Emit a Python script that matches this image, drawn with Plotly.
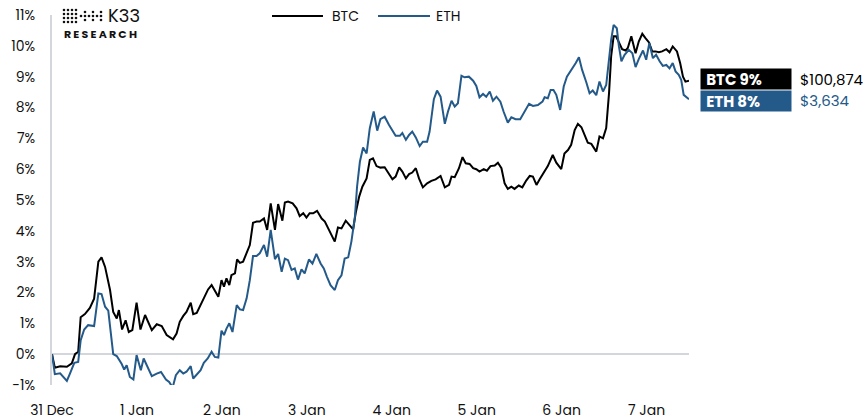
import pandas as pd
import plotly.graph_objects as go

# Hours since 31 Dec 00:00 and cumulative % change
btc_hours = [0, 0.8, 2.3, 4.2, 5.6, 6.5, 7.4, 8.1, 9.3, 10.7,
             11.9, 13.1, 14.0, 15.0, 16.4, 17.3, 18.3, 18.9, 19.8, 20.8,
             21.7, 22.7, 23.9, 25.0, 26.3, 28.2, 29.6, 31.0, 32.4, 33.3,
             34.2, 35.2, 36.1, 37.1, 38.0, 39.2, 39.9, 40.9, 41.8, 42.9,
             44.1, 45.1, 46.0, 47.0, 47.9, 48.6, 49.3, 50.1, 50.7, 51.7,
             52.3, 53.1, 54.0, 55.0, 55.9, 56.8, 57.8, 58.7, 59.9, 60.8,
             61.8, 63.0, 63.9, 65.1, 65.8, 66.7, 68.0, 69.1, 70.0, 71.0,
             71.9, 72.8, 73.8, 74.9, 76.2, 77.1, 78.0, 79.0, 79.9, 80.8,
             81.8, 83.0, 84.1, 85.1, 85.8, 86.8, 87.7, 88.9, 89.8, 90.7,
             91.7, 92.8, 94.0, 95.0, 96.2, 97.1, 98.1, 99.0, 100.0, 100.9,
             101.8, 102.8, 103.7, 104.8, 106.0, 107.2, 108.4, 109.8, 111.0, 112.2,
             112.9, 113.8, 115.0, 116.0, 116.9, 118.0, 119.0, 119.9, 120.8, 122.0,
             122.9, 123.9, 125.1, 126.0, 127.0, 127.9, 128.8, 129.8, 130.7, 131.9,
             132.9, 134.0, 135.0, 135.9, 136.9, 137.8, 138.9, 140.1, 141.5, 142.5,
             143.9, 144.8, 145.8, 146.7, 147.7, 148.6, 149.6, 150.5, 151.4, 152.4,
             153.8, 154.7, 155.7, 156.6, 157.4, 158.0, 158.7, 159.4, 160.2, 161.1,
             162.1, 162.7, 163.7, 164.9, 165.8, 166.8, 167.7, 168.7, 169.6, 170.5,
             171.5, 172.4, 173.6, 174.5, 175.4, 176.6, 177.5, 178.3, 179.0, 180.0]
btc_pct = [0.0, -0.44, -0.39, -0.41, -0.30, 0.0, 0.08, 1.20, 1.30, 1.50,
           1.80, 3.00, 3.14, 2.83, 2.08, 1.37, 1.16, 1.43, 0.80, 1.10,
           0.72, 0.78, 1.67, 0.80, 1.27, 0.78, 0.97, 0.91, 0.62, 0.56,
           0.48, 0.67, 1.05, 1.24, 1.37, 1.67, 1.30, 1.34, 1.56, 1.86,
           2.10, 2.24, 2.08, 1.86, 2.40, 2.19, 2.46, 2.24, 2.56, 2.62,
           3.07, 2.96, 3.00, 3.27, 3.54, 4.26, 4.30, 4.30, 4.40, 4.03,
           4.89, 4.03, 4.87, 4.33, 4.92, 4.95, 4.89, 4.73, 4.48, 4.57,
           4.43, 4.57, 4.57, 4.65, 4.40, 4.30, 4.08, 3.86, 3.65, 4.11,
           4.08, 4.33, 4.19, 4.05, 4.57, 5.11, 5.43, 5.70, 6.30, 6.35,
           6.10, 6.05, 6.06, 5.87, 5.67, 5.76, 6.06, 5.92, 5.70, 5.84,
           5.89, 6.03, 5.70, 5.41, 5.54, 5.62, 5.67, 5.78, 5.41, 5.49,
           5.76, 5.74, 6.03, 6.39, 6.19, 6.17, 6.03, 6.00, 5.92, 6.00,
           5.95, 6.10, 6.12, 6.21, 6.03, 5.54, 5.36, 5.43, 5.36, 5.47,
           5.41, 5.63, 5.78, 5.76, 5.49, 5.67, 5.89, 6.10, 6.46, 6.21,
           6.00, 6.51, 6.62, 6.79, 7.27, 7.47, 7.36, 7.11, 6.86, 6.82,
           6.57, 7.06, 7.00, 7.33, 8.46, 9.66, 10.31, 10.31, 10.09, 9.89,
           9.85, 9.93, 10.31, 9.76, 10.14, 10.39, 10.25, 10.11, 9.82, 9.82,
           9.79, 9.82, 9.89, 9.79, 9.98, 9.82, 9.44, 9.00, 8.84, 8.87]

eth_hours = [0, 0.8, 2.3, 3.2, 4.2, 5.1, 6.3, 7.4, 8.1, 9.1,
             10.2, 11.9, 13.1, 14.0, 15.0, 15.9, 17.3, 18.3, 19.7, 20.4,
             21.1, 22.0, 23.0, 23.9, 25.1, 25.9, 27.0, 28.2, 29.6, 30.8,
             32.2, 33.1, 34.1, 35.0, 36.1, 37.1, 38.0, 39.2, 39.9, 41.0,
             42.0, 42.9, 44.0, 45.1, 46.0, 47.0, 47.9, 48.6, 49.3, 50.1,
             51.0, 52.2, 53.1, 54.0, 55.0, 55.9, 56.8, 57.8, 58.7, 59.9,
             60.8, 61.8, 63.0, 63.9, 64.9, 65.8, 66.7, 67.7, 68.6, 69.5,
             70.5, 71.4, 72.6, 73.6, 74.7, 75.9, 76.8, 77.7, 78.7, 79.9,
             80.8, 81.8, 82.7, 83.7, 84.6, 85.6, 86.2, 87.0, 87.9, 88.9,
             89.8, 90.9, 91.9, 92.8, 94.0, 95.2, 96.2, 97.1, 98.3, 99.0,
             100.0, 100.9, 101.8, 102.8, 103.9, 104.8, 106.0, 106.7, 107.9, 108.8,
             109.8, 111.0, 111.9, 112.9, 113.8, 114.7, 115.7, 116.6, 117.8, 119.0,
             119.9, 120.8, 121.8, 122.7, 123.7, 124.6, 125.6, 126.7, 127.6, 128.8,
             129.8, 131.0, 132.3, 133.6, 134.8, 135.9, 137.3, 138.6, 139.2, 140.1,
             140.9, 141.7, 142.5, 143.6, 144.6, 145.5, 146.7, 148.0, 148.9, 149.8,
             151.0, 151.9, 152.8, 153.8, 154.7, 155.7, 156.6, 157.4, 158.0, 158.7,
             159.6, 160.2, 160.9, 161.8, 163.0, 164.0, 164.9, 165.8, 167.0, 167.9,
             168.8, 169.8, 170.7, 171.7, 172.6, 173.6, 174.5, 175.4, 176.2, 177.1,
             177.8, 178.5, 179.2, 180.0]
eth_pct = [0.0, -0.65, -0.62, -0.74, -0.87, -0.62, -0.28, -0.25, 0.45, 0.80,
           0.94, 0.91, 1.97, 1.95, 1.54, 1.41, 0.00, -0.06, -0.32, -0.50,
           -0.36, -0.74, -0.82, -0.03, -0.52, -0.14, -0.39, -0.71, -0.63, -0.58,
           -0.82, -0.90, -1.08, -0.68, -0.52, -0.63, -0.57, -0.39, -0.79, -0.65,
           -0.52, -0.28, -0.14, 0.08, -0.09, -0.11, 0.76, 0.62, 0.83, 1.00,
           0.72, 1.59, 1.45, 1.43, 1.81, 2.40, 3.18, 3.18, 3.27, 3.54,
           3.16, 4.03, 3.08, 3.25, 2.67, 3.10, 3.05, 2.73, 2.78, 2.42,
           2.75, 2.62, 3.07, 2.94, 3.25, 2.94, 2.78, 2.51, 2.24, 2.08,
           2.40, 2.56, 3.10, 3.14, 3.65, 4.46, 5.43, 6.24, 6.70, 6.51,
           7.33, 7.87, 7.25, 7.62, 7.70, 7.44, 7.25, 7.08, 7.08, 7.17,
           6.95, 7.11, 7.22, 7.03, 6.75, 6.89, 6.89, 7.22, 8.27, 8.55,
           8.35, 7.47, 7.87, 8.22, 8.03, 8.14, 9.03, 8.98, 9.00, 8.87,
           8.70, 8.33, 8.44, 8.35, 8.52, 8.22, 8.35, 8.19, 7.87, 7.51,
           7.68, 7.62, 7.62, 7.87, 8.12, 8.05, 8.08, 8.19, 8.33, 8.30,
           8.57, 8.57, 8.41, 7.92, 8.68, 9.00, 9.20, 9.44, 9.63, 9.22,
           8.81, 8.46, 8.55, 8.40, 8.84, 8.52, 8.73, 9.55, 10.19, 10.68,
           10.57, 9.98, 9.50, 9.71, 9.87, 9.76, 9.31, 9.57, 9.85, 9.55,
           10.09, 9.60, 9.71, 9.50, 9.35, 9.38, 9.27, 9.44, 9.17, 9.06,
           8.90, 8.41, 8.33, 8.27]

btc_price = "$100,874"
eth_price = "$3,634"
pct_ticks = list(range(-1, 12))

start = pd.Timestamp("2024-12-31 00:00")
btc_time = start + pd.to_timedelta(btc_hours, unit="h")
eth_time = start + pd.to_timedelta(eth_hours, unit="h")
end = start + pd.Timedelta(hours=180)

BLACK = "#000000"
BLUE = "#245a8a"
INK = "#111111"
FONT = "Poppins, Open Sans, sans-serif"

fig = go.Figure()
fig.add_trace(go.Scatter(x=btc_time, y=btc_pct, mode="lines", name="BTC",
                         line=dict(color=BLACK, width=2)))
fig.add_trace(go.Scatter(x=eth_time, y=eth_pct, mode="lines", name="ETH",
                         line=dict(color=BLUE, width=2)))

fig.update_layout(
    width=863, height=420,
    margin=dict(l=52, r=174, t=15, b=35, autoexpand=False),
    paper_bgcolor="white", plot_bgcolor="white",
    font=dict(family=FONT, size=14, color=INK),
    showlegend=False,
)

fig.update_xaxes(
    range=[start, end], type="date", automargin=False,
    tick0=start, dtick=86400000, tickformat="%-d %b",
    showgrid=False, zeroline=False, showline=False, ticks="",
    ticklabelstandoff=15, tickfont=dict(size=14, color=INK),
)
fig.update_yaxes(
    range=[-1, 11], tickvals=pct_ticks, ticktext=[f"{v}%" for v in pct_ticks],
    automargin=False,
    showgrid=False, zeroline=True, zerolinecolor="#d3d7dc", zerolinewidth=2,
    showline=True, linecolor="#d3d7dc", linewidth=2, ticks="",
    ticklabelstandoff=12, tickfont=dict(size=14, color=INK),
)

# Legend drawn as line swatches + labels along the top edge
for name, colr, x0, x1, xt in [("BTC", BLACK, 0.3454, 0.4254, 0.4364),
                               ("ETH", BLUE, 0.5118, 0.5934, 0.5997)]:
    fig.add_shape(type="line", xref="paper", yref="paper", x0=x0, x1=x1,
                  y0=0.9973, y1=0.9973, line=dict(color=colr, width=2))
    fig.add_annotation(xref="paper", yref="paper", x=xt, y=0.9973,
                       xanchor="left", yanchor="middle", showarrow=False,
                       text=name, font=dict(family=FONT, size=14, color=INK))

# End-of-period labels
btc_last = round(btc_pct[-1])
eth_last = round(eth_pct[-1])
box_x = 1.0173
price_x = 1.1711
for label, price, colr, ypos in [
    (f"BTC {btc_last}%", btc_price, BLACK, 0.827),
    (f"ETH {eth_last}%", eth_price, BLUE, 0.7676),
]:
    fig.add_annotation(xref="paper", yref="paper", x=box_x, y=ypos,
                       xanchor="left", yanchor="middle", showarrow=False,
                       text=f"<b>\u00a0{label}</b>", align="left", width=86, height=16,
                       borderpad=2, bgcolor=colr,
                       font=dict(family=FONT, size=15, color="white"))
    fig.add_annotation(xref="paper", yref="paper", x=price_x, y=ypos,
                       xanchor="left", yanchor="middle", showarrow=False,
                       text=price, font=dict(family=FONT, size=15, color=colr))

# Brand mark: dot-grid icon, wordmark and subtitle
px = lambda v: (v - 52) / 637.0
py = lambda v: (385 - v) / 370.0
dots = [(c, r) for c in (64, 68, 72, 76) for r in (10, 14, 18, 22)]
dots += [(81, 16), (85, 16), (89, 16), (93, 16), (97, 16), (101, 16),
         (85, 12), (85, 20), (93, 12), (93, 20), (101, 12), (101, 20)]
for cx, cy in dots:
    fig.add_shape(type="circle", xref="paper", yref="paper",
                  xsizemode="pixel", ysizemode="pixel",
                  xanchor=px(cx), yanchor=py(cy),
                  x0=-1.3, x1=1.3, y0=-1.3, y1=1.3,
                  fillcolor=INK, line=dict(width=0))
fig.add_annotation(xref="paper", yref="paper", x=px(106), y=py(15),
                   xanchor="left", yanchor="middle", showarrow=False,
                   text="K33", font=dict(family=FONT, size=18, color=INK))
fig.add_annotation(xref="paper", yref="paper", x=px(62), y=py(33.5),
                   xanchor="left", yanchor="middle", showarrow=False,
                   text="<b>" + "\u2009".join("RESEARCH") + "</b>",
                   font=dict(family=FONT, size=11, color=INK))

fig.write_html("out.html")
